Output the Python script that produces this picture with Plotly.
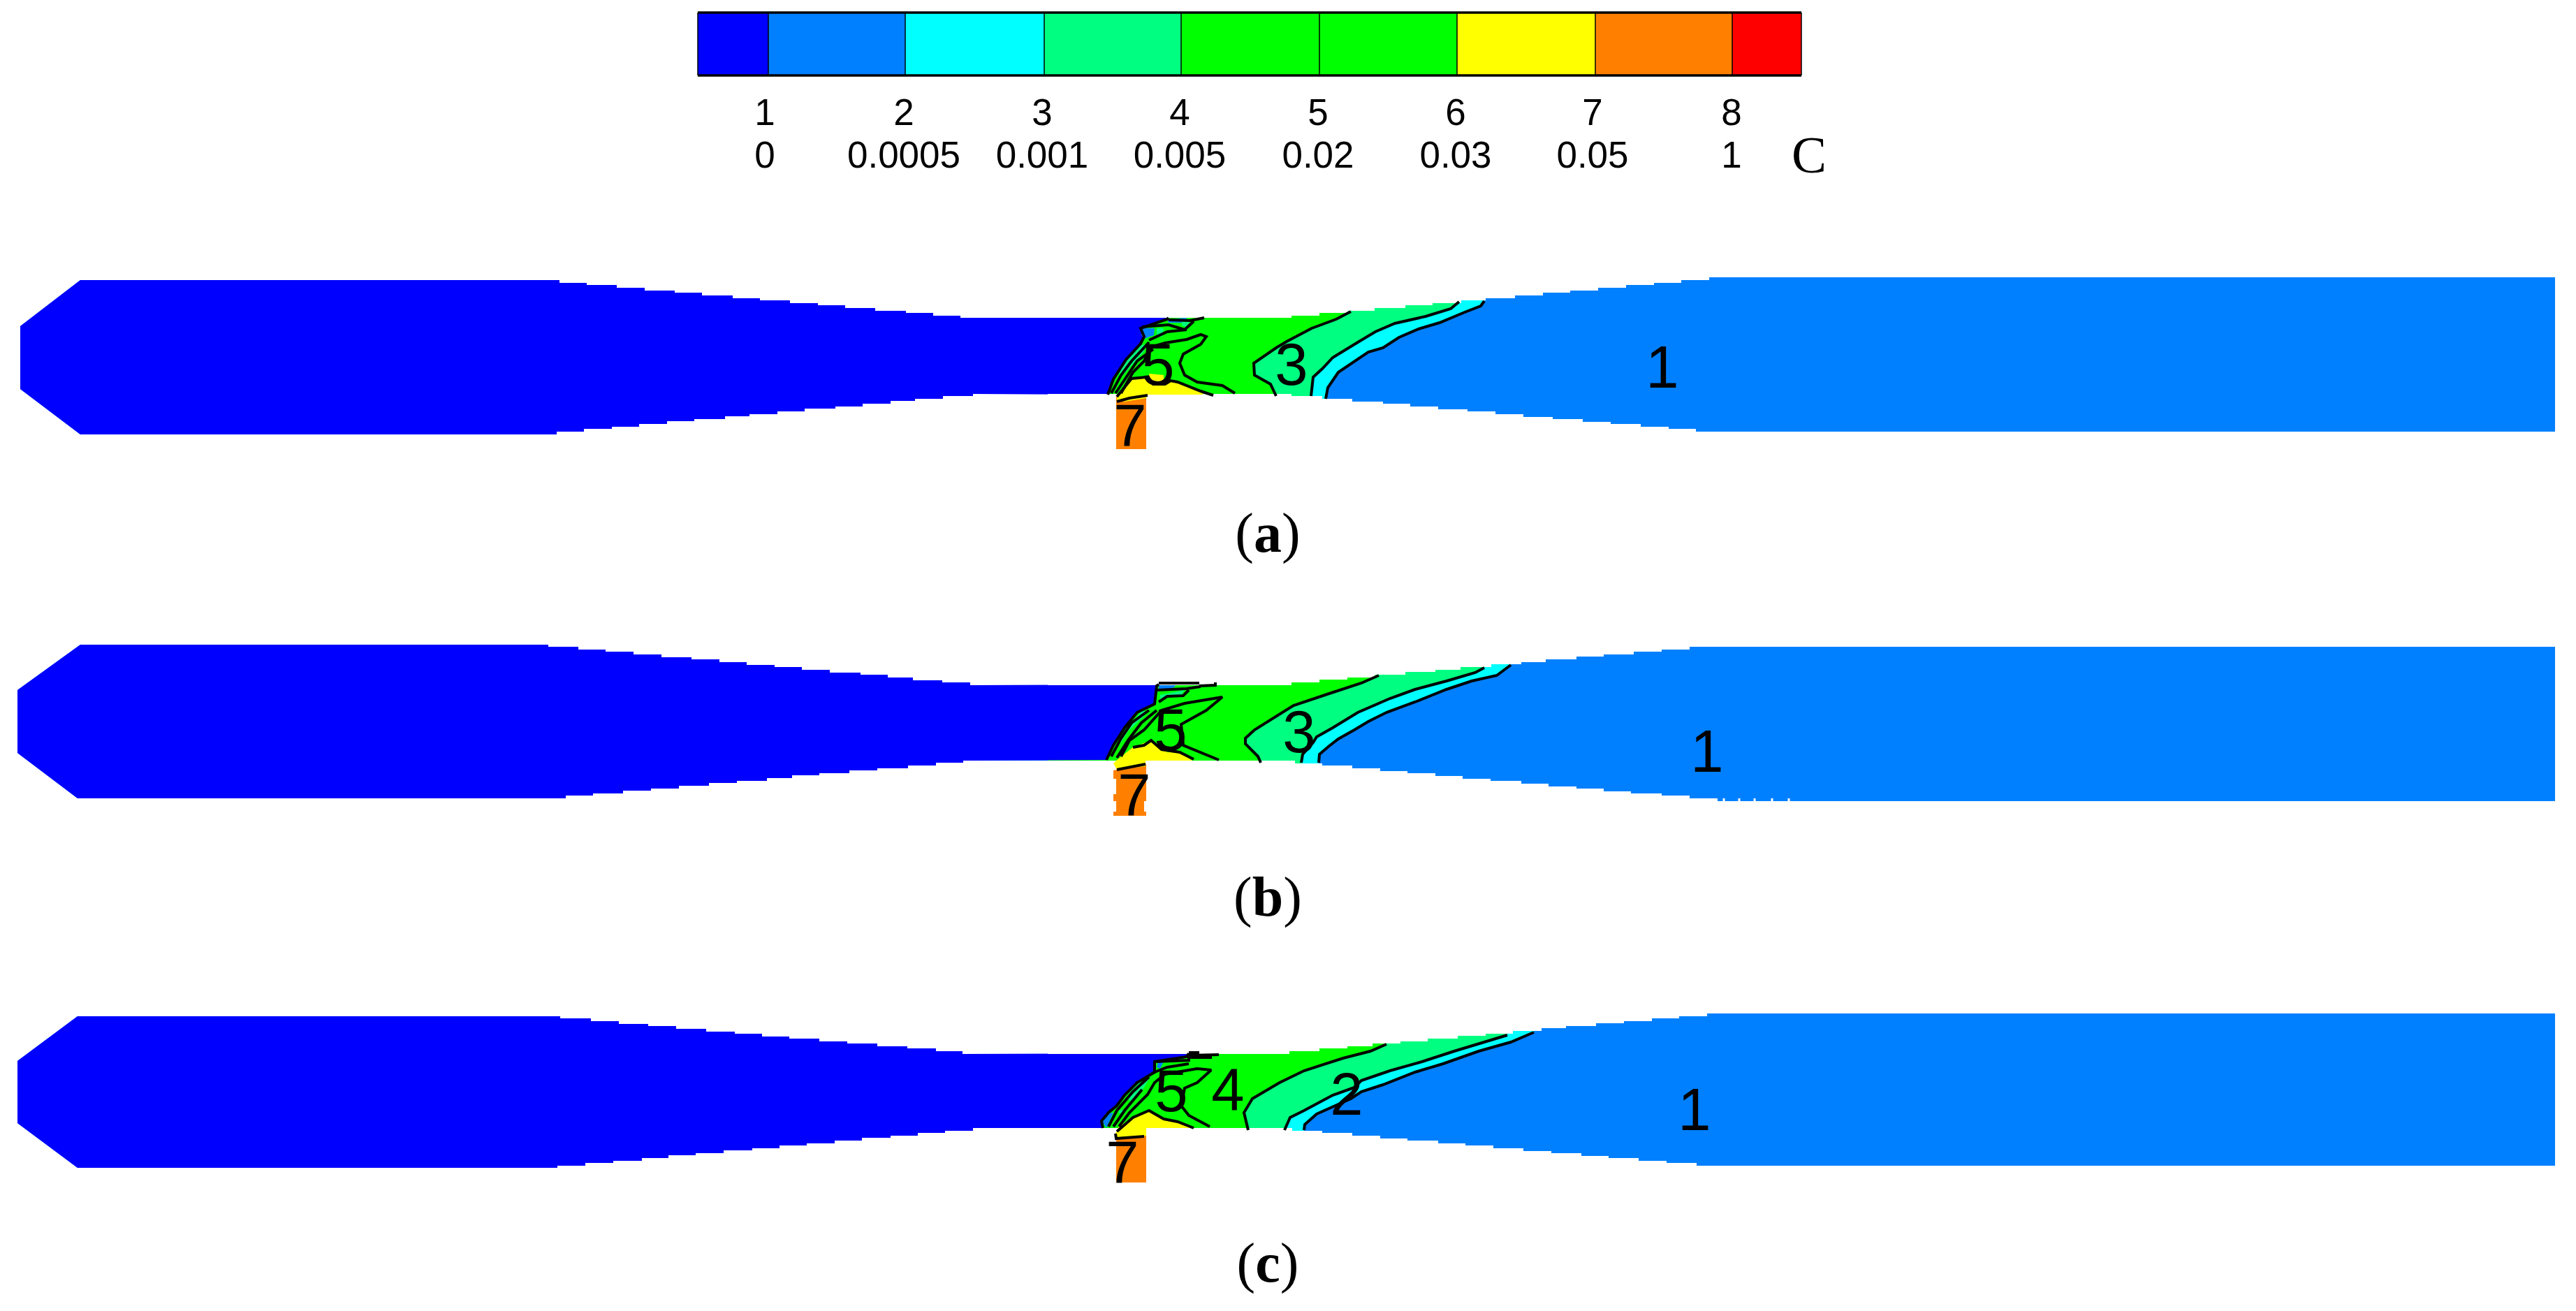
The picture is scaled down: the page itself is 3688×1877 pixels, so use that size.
import plotly.graph_objects as go

# colour scale
level_colors = ['#0000ff', '#0080ff', '#00ffff', '#00ff80', '#00ff00', '#00ff00', '#ffff00', '#ff8000', '#ff0000']
bar_edges = [999, 1100, 1296, 1495, 1691, 1889, 2086, 2284, 2480, 2579]
level_numbers = ['1', '2', '3', '4', '5', '6', '7', '8']
level_values = ['0', '0.0005', '0.001', '0.005', '0.02', '0.03', '0.05', '1']
level_x = [1095, 1294, 1492, 1689, 1887, 2084, 2280, 2479]

# panel (a), picture pixels. stair lists: x where the wall steps, y after the step
a_nose = [(29, 467), (29, 557)]
a_top = [(115, 401), (801, 405), (840, 408), (883, 412), (923, 416), (966, 419), (1005, 423), (1049, 427), (1088, 430),
         (1131, 434), (1171, 437), (1210, 441), (1253, 445), (1297, 448), (1336, 452), (1375, 455)]
a_top2 = [(1849, 452), (1889, 448), (1930, 445), (1968, 441), (2012, 437), (2051, 434), (2092, 430), (2127, 427),
          (2169, 423), (2209, 419), (2248, 416), (2288, 412), (2328, 408), (2368, 405), (2407, 401), (2447, 397), (3658, 397)]
a_bot = [(115, 622), (797, 618), (836, 614), (876, 611), (915, 607), (955, 603), (994, 600), (1038, 596), (1073, 593),
         (1113, 589), (1152, 585), (1196, 582), (1235, 578), (1275, 574), (1310, 571), (1350, 567), (1393, 564)]
a_bot2 = [(1849, 567), (1893, 571), (1936, 575), (1980, 578), (2019, 582), (2059, 586), (2101, 589), (2141, 593),
          (2181, 597), (2223, 600), (2266, 604), (2306, 607), (2349, 611), (2389, 614), (2428, 618), (3658, 618)]
a_curve_a = [(1898, 571), (1901, 555), (1916, 533), (1939, 517), (1959, 504), (1980, 498), (2003, 483), (2031, 471),
             (2061, 462), (2097, 447), (2120, 438), (2125, 431)]
a_curve_b = [(1877, 567), (1880, 540), (1893, 528), (1908, 512), (1944, 490), (1969, 475), (1997, 463), (2041, 453),
             (2077, 442), (2089, 432)]
a_curve_c = [(1827, 567), (1819, 550), (1796, 537), (1795, 520), (1827, 498), (1842, 489), (1878, 470), (1913, 457), (1934, 446)]
a_edge = [(1586, 565), (1594, 543), (1612, 515), (1633, 492), (1638, 482), (1633, 470), (1671, 457), (1673, 455)]
a_yellow = [(1599, 568), (1605, 560), (1620, 542), (1640, 540), (1651, 550), (1668, 550), (1673, 546), (1686, 548),
            (1722, 563), (1722, 565), (1643, 565), (1641, 570), (1610, 575), (1599, 573)]
a_pockets_yellow = [[(1645, 535), (1666, 537), (1666, 546), (1652, 546), (1645, 542)]]
a_pockets_light = [[(1634, 470), (1653, 470), (1652, 480), (1638, 485), (1634, 480)],
                   [(1671, 457), (1699, 455), (1696, 462), (1673, 462)]]
a_pockets_spring = [[(1656, 470), (1666, 470), (1664, 482), (1656, 482)],
                    [(1640, 493), (1638, 503), (1620, 523), (1607, 538), (1602, 538), (1610, 515), (1630, 495)],
                    [(1692, 460), (1705, 458), (1698, 468), (1692, 466)]]
a_tube = [(1598, 568), (1598, 643), (1641, 643), (1641, 566)]
a_lines = [[(1673, 458), (1704, 459), (1724, 455)],
           [(1635, 468), (1673, 465), (1696, 472), (1709, 460)],
           [(1645, 487), (1671, 475), (1699, 472)],
           [(1605, 563), (1622, 533), (1638, 517), (1648, 497), (1668, 491), (1699, 486), (1719, 479), (1727, 482),
            (1719, 493), (1694, 507), (1689, 520), (1696, 537), (1714, 547), (1750, 552), (1768, 563)],
           [(1591, 563), (1605, 537), (1620, 517), (1645, 490)],
           [(1597, 563), (1610, 543), (1628, 517), (1651, 500)],
           [(1599, 568), (1620, 542), (1640, 540), (1651, 550), (1668, 550), (1676, 545), (1686, 547), (1719, 560), (1737, 566)],
           [(1599, 575), (1617, 570), (1643, 566)]]
a_labels = ['5', '3', '7', '1']
a_label_pos = [(1658, 522), (1849, 522), (1618, 609), (2380, 526)]

# panel (b)
b_nose = [(25, 988), (25, 1078)]
b_top = [(115, 923), (785, 926), (828, 930), (867, 933), (907, 937), (947, 941), (990, 944), (1030, 948), (1069, 952),
         (1109, 955), (1148, 959), (1188, 963), (1232, 966), (1271, 970), (1307, 974), (1349, 977), (1389, 981)]
b_top2 = [(1849, 977), (1889, 973), (1929, 970), (1969, 966), (2012, 962), (2055, 959), (2091, 955), (2135, 951),
          (2178, 948), (2213, 944), (2257, 940), (2296, 937), (2339, 933), (2379, 930), (2419, 926), (3658, 926)]
b_bot = [(111, 1143), (810, 1139), (849, 1136), (892, 1132), (932, 1129), (972, 1125), (1015, 1121), (1055, 1118),
         (1098, 1114), (1134, 1110), (1173, 1107), (1216, 1103), (1256, 1100), (1300, 1096), (1340, 1092), (1379, 1089)]
b_bot2 = [(1854, 1093), (1893, 1096), (1936, 1100), (1976, 1104), (2015, 1107), (2055, 1111), (2094, 1115), (2134, 1118),
          (2178, 1122), (2217, 1126), (2257, 1129), (2296, 1133), (2335, 1136), (2379, 1139), (2419, 1143), (2459, 1147), (3658, 1147)]
b_curve_a = [(1888, 1092), (1889, 1080), (1903, 1068), (1916, 1058), (1939, 1045), (1959, 1033), (1985, 1020), (2026, 1005),
             (2071, 987), (2107, 975), (2143, 967), (2163, 952)]
b_curve_b = [(1863, 1092), (1865, 1080), (1880, 1063), (1885, 1055), (1908, 1042), (1944, 1020), (1990, 1000), (2026, 987),
             (2071, 975), (2112, 963), (2125, 956)]
b_curve_c = [(1805, 1092), (1801, 1083), (1783, 1065), (1783, 1057), (1796, 1045), (1832, 1023), (1852, 1010), (1903, 993),
             (1949, 978), (1974, 967)]
b_edge = [(1584, 1088), (1594, 1067), (1610, 1042), (1628, 1020), (1653, 1008), (1656, 982), (1659, 980)]
b_yellow = [(1597, 1090), (1622, 1070), (1648, 1060), (1661, 1068), (1671, 1077), (1689, 1078), (1707, 1089), (1640, 1089),
            (1640, 1097), (1599, 1102), (1594, 1093)]
b_pockets_yellow = []
b_pockets_light = [[(1659, 980), (1684, 980), (1681, 984), (1668, 988), (1659, 988)]]
b_pockets_spring = [[(1696, 988), (1691, 995), (1671, 997), (1661, 1005), (1661, 995)],
                    [(1635, 1018), (1645, 1018), (1635, 1028), (1615, 1047), (1605, 1063), (1601, 1063), (1610, 1045), (1620, 1035)]]
b_tube = [(1594, 1103), (1594, 1115), (1598, 1115), (1598, 1137), (1594, 1137), (1594, 1147), (1598, 1147), (1598, 1162),
          (1594, 1162), (1594, 1168), (1641, 1168), (1641, 1162), (1638, 1162), (1638, 1147), (1641, 1147), (1641, 1094)]
b_lines = [[(1659, 978), (1717, 978)],
           [(1717, 982), (1740, 981), (1740, 977)],
           [(1656, 988), (1699, 986), (1719, 983)],
           [(1659, 1005), (1671, 997), (1694, 996), (1702, 988)],
           [(1605, 1083), (1617, 1060), (1638, 1045), (1653, 1028), (1663, 1017), (1696, 1007), (1750, 998), (1727, 1017),
            (1691, 1037), (1694, 1067), (1745, 1088)],
           [(1591, 1083), (1605, 1057), (1620, 1035), (1645, 1017)],
           [(1599, 1085), (1615, 1060), (1634, 1035), (1656, 1017)],
           [(1622, 1070), (1638, 1067), (1648, 1060), (1663, 1073), (1689, 1077), (1709, 1087)],
           [(1599, 1102), (1622, 1097), (1640, 1094)]]
b_labels = ['5', '3', '7', '1']
b_label_pos = [(1676, 1045), (1860, 1048), (1624, 1138), (2444, 1076)]
b_notches = [2468, 2490, 2512, 2537, 2561]

# panel (c)
c_nose = [(25, 1519), (25, 1608)]
c_top = [(111, 1455), (802, 1458), (846, 1462), (886, 1466), (928, 1469), (968, 1473), (1011, 1477), (1052, 1480), (1091, 1484),
         (1130, 1487), (1173, 1491), (1213, 1494), (1256, 1498), (1299, 1501), (1340, 1505), (1378, 1509)]
c_top2 = [(1846, 1505), (1889, 1501), (1929, 1498), (1965, 1494), (2005, 1491), (2044, 1487), (2087, 1483), (2127, 1480),
          (2166, 1476), (2207, 1472), (2242, 1469), (2285, 1465), (2325, 1462), (2365, 1458), (2404, 1455), (2444, 1451), (3658, 1451)]
c_bot = [(111, 1672), (798, 1669), (838, 1665), (878, 1662), (919, 1658), (957, 1654), (996, 1651), (1036, 1647), (1077, 1644),
         (1116, 1640), (1155, 1637), (1195, 1633), (1234, 1629), (1275, 1626), (1314, 1622), (1353, 1619), (1393, 1615)]
c_bot2 = [(1850, 1619), (1893, 1622), (1936, 1626), (1976, 1630), (2015, 1633), (2059, 1637), (2098, 1640), (2138, 1644),
          (2181, 1648), (2221, 1651), (2264, 1655), (2303, 1658), (2346, 1662), (2386, 1665), (2429, 1669), (3658, 1669)]
c_curve_a = [(1867, 1618), (1868, 1610), (1885, 1595), (1934, 1573), (1949, 1563), (1980, 1553), (2026, 1535), (2066, 1523),
             (2117, 1505), (2163, 1492), (2196, 1478)]
c_curve_b = [(1839, 1618), (1847, 1600), (1867, 1590), (1908, 1568), (1939, 1557), (1949, 1547), (1990, 1533), (2036, 1520),
             (2082, 1505), (2122, 1493), (2158, 1482)]
c_curve_c = [(1787, 1618), (1781, 1593), (1793, 1573), (1832, 1550), (1867, 1533), (1923, 1515), (1962, 1505), (1985, 1495)]
c_edge = [(1579, 1615), (1577, 1605), (1587, 1593), (1599, 1583), (1610, 1568), (1628, 1550), (1653, 1535), (1653, 1520),
          (1699, 1513), (1702, 1508)]
c_yellow = [(1597, 1623), (1602, 1613), (1622, 1600), (1645, 1590), (1666, 1602), (1686, 1607), (1707, 1615), (1641, 1615),
            (1641, 1626), (1598, 1630)]
c_pockets_yellow = []
c_pockets_light = [[(1582, 1595), (1594, 1593), (1584, 1615), (1579, 1607)],
                   [(1658, 1520), (1666, 1520), (1661, 1530), (1656, 1528)]]
c_pockets_spring = [[(1702, 1512), (1735, 1510), (1732, 1514), (1702, 1515)],
                    [(1635, 1547), (1645, 1545), (1638, 1557), (1622, 1577), (1616, 1575), (1618, 1563)],
                    [(1602, 1590), (1612, 1588), (1610, 1593), (1602, 1594)]]
c_tube = [(1598, 1630), (1598, 1693), (1641, 1693), (1641, 1626)]
c_lines = [[(1702, 1507), (1717, 1507)],
           [(1702, 1511), (1745, 1510)],
           [(1653, 1520), (1702, 1518), (1702, 1514), (1735, 1514)],
           [(1653, 1535), (1671, 1528), (1702, 1523)],
           [(1602, 1613), (1617, 1593), (1643, 1567), (1653, 1550), (1668, 1538), (1714, 1530), (1734, 1532), (1714, 1550),
            (1696, 1558), (1691, 1583), (1702, 1597), (1732, 1613)],
           [(1587, 1613), (1599, 1590), (1622, 1563), (1645, 1542)],
           [(1594, 1613), (1610, 1590), (1635, 1560)],
           [(1599, 1620), (1622, 1600), (1645, 1590), (1666, 1602), (1686, 1606), (1709, 1615)],
           [(1597, 1623), (1598, 1630), (1638, 1627)]]
c_labels = ['5', '4', '2', '7', '1']
c_label_pos = [(1677, 1562), (1758, 1560), (1928, 1567), (1607, 1664), (2426, 1589)]

captions = ['(<b>a</b>)', '(<b>b</b>)', '(<b>c</b>)']
caption_x = [1815, 1815, 1815]
caption_y = [770, 1291, 1815]

fig = go.Figure()


def stairs(pts):
    # wall is drawn as the blocky grid edge, flat then a drop at the next x
    out = []
    for i in range(len(pts) - 1):
        out.append(pts[i])
        out.append((pts[i + 1][0], pts[i][1]))
    out.append(pts[-1])
    return out


def poly(pts, color):
    fig.add_trace(go.Scatter(x=[p[0] for p in pts], y=[p[1] for p in pts], mode='lines', fill='toself',
                             fillcolor=color, line=dict(width=0), hoverinfo='skip', showlegend=False))


def line(pts, width=4, color='black'):
    fig.add_trace(go.Scatter(x=[p[0] for p in pts], y=[p[1] for p in pts], mode='lines',
                             line=dict(color=color, width=width), hoverinfo='skip', showlegend=False))


def panel(nose, top, top2, bot, bot2, curve_a, curve_b, curve_c, edge, yellow, pk_yellow, pk_light, pk_spring, tube, lines,
          labels, label_pos):
    wall_top = top[-1][1]
    wall_bot = bot[-1][1]
    upper = stairs(top + top2)
    lower = stairs(bot + bot2)
    poly([nose[0]] + upper + lower[::-1] + [nose[1]], level_colors[1])

    # plume bands, outer one first, each runs back under the next
    for curve, color in [(curve_a, level_colors[2]), (curve_b, level_colors[3]), (curve_c, level_colors[4])]:
        poly(curve + [(curve[-1][0], wall_top - 60), (1500, wall_top - 60), (1500, wall_bot + 30), (curve[0][0], wall_bot + 30)], color)

    poly([nose[0]] + stairs(top) + edge[::-1] + stairs(bot)[::-1] + [nose[1]], level_colors[0])
    for p in pk_light:
        poly(p, level_colors[1])
    for p in pk_spring:
        poly(p, level_colors[3])
    poly(yellow, level_colors[6])
    for p in pk_yellow:
        poly(p, level_colors[6])

    # white cover outside the diverging walls
    up = stairs([(1500, wall_top)] + top2)[:-1]
    low = stairs([(1500, wall_bot)] + bot2)[:-1]
    poly(up + [(up[-1][0], wall_top - 90), (1500, wall_top - 90)], 'white')
    poly(low + [(low[-1][0], wall_bot + 90), (1500, wall_bot + 90)], 'white')

    poly(tube, level_colors[7])
    poly(yellow, level_colors[6])

    for c in [curve_a, curve_b, curve_c, edge] + lines:
        line(c)
    fig.add_trace(go.Scatter(x=[p[0] for p in label_pos], y=[p[1] + 8 for p in label_pos], mode='text', text=labels,
                             textposition='middle center', textfont=dict(family='Liberation Sans', size=85, color='black'),
                             hoverinfo='skip', showlegend=False))


# colour bar
for i in range(len(level_colors)):
    poly([(bar_edges[i], 19), (bar_edges[i + 1], 19), (bar_edges[i + 1], 108), (bar_edges[i], 108)], level_colors[i])
for e in bar_edges[1:-1]:
    line([(e, 19), (e, 108)], width=1.5)
line([(bar_edges[0], 18), (bar_edges[-1], 18)], width=3.5)
line([(bar_edges[0], 108), (bar_edges[-1], 108)], width=3.5)
line([(bar_edges[0], 18), (bar_edges[0], 108)], width=1.5)
line([(bar_edges[-1], 18), (bar_edges[-1], 108)], width=1.5)
fig.add_trace(go.Scatter(x=level_x, y=[166] * len(level_x), mode='text', text=level_numbers, textposition='middle center',
                         textfont=dict(family='Liberation Sans', size=53, color='black'), hoverinfo='skip', showlegend=False))
fig.add_trace(go.Scatter(x=level_x, y=[227] * len(level_x), mode='text', text=level_values, textposition='middle center',
                         textfont=dict(family='Liberation Sans', size=53, color='black'), hoverinfo='skip', showlegend=False))
fig.add_trace(go.Scatter(x=[2590], y=[228], mode='text', text=['C'], textposition='middle center',
                         textfont=dict(family='Liberation Serif', size=75, color='black'), hoverinfo='skip', showlegend=False))

panel(a_nose, a_top, a_top2, a_bot, a_bot2, a_curve_a, a_curve_b, a_curve_c, a_edge, a_yellow, a_pockets_yellow, a_pockets_light,
      a_pockets_spring, a_tube, a_lines, a_labels, a_label_pos)
panel(b_nose, b_top, b_top2, b_bot, b_bot2, b_curve_a, b_curve_b, b_curve_c, b_edge, b_yellow, b_pockets_yellow, b_pockets_light,
      b_pockets_spring, b_tube, b_lines, b_labels, b_label_pos)
panel(c_nose, c_top, c_top2, c_bot, c_bot2, c_curve_a, c_curve_b, c_curve_c, c_edge, c_yellow, c_pockets_yellow, c_pockets_light,
      c_pockets_spring, c_tube, c_lines, c_labels, c_label_pos)

# small gaps along the lower wall of (b)
for n in b_notches:
    line([(n, 1143), (n, 1147)], width=3, color='white')

fig.add_trace(go.Scatter(x=caption_x, y=caption_y, mode='text', text=captions, textposition='middle center',
                         textfont=dict(family='Liberation Serif', size=80, color='black'), hoverinfo='skip', showlegend=False))

fig.update_xaxes(range=[0, 3688], visible=False)
fig.update_yaxes(range=[1877, 0], visible=False)
fig.update_layout(width=3688, height=1877, margin=dict(l=0, r=0, t=0, b=0), paper_bgcolor='white', plot_bgcolor='white',
                  showlegend=False)
fig.write_html("out.html", config={'displayModeBar': False}, post_script="document.body.style.margin='0';")
